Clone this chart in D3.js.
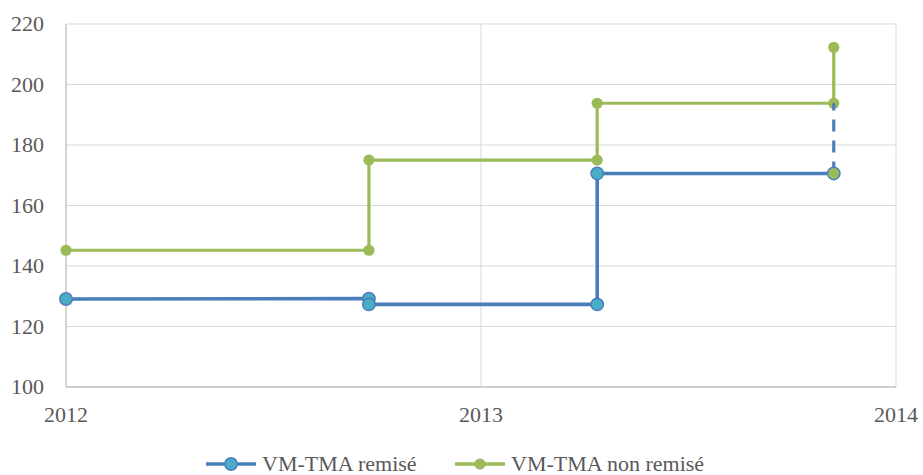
<!DOCTYPE html>
<html>
<head>
<meta charset="utf-8">
<script src="https://cdn.jsdelivr.net/npm/d3@7"></script>
</head>
<body style="margin:0">
<div id="chart"></div>
<script>
var width = 923, height = 475;

// data (x in decimal years)
var yearTicks = [2012, 2013, 2014];
var valueTicks = [100, 120, 140, 160, 180, 200, 220];
var remiseX = [2012, 2012.73, 2012.73, 2013.28, 2013.28, 2013.85];
var remiseY = [129.1, 129.2, 127.3, 127.3, 170.6, 170.6];
var nonRemiseX = [2012, 2012.73, 2012.73, 2013.28, 2013.28, 2013.85, 2013.85];
var nonRemiseY = [145.2, 145.2, 175.0, 175.0, 193.8, 193.8, 212.3];
var dashX = [2013.85, 2013.85];
var dashY = [170.6, 193.8];
var seriesNames = ["VM-TMA remisé", "VM-TMA non remisé"];

var blueLine = "#4a7ebb", blueFill = "#4bacc6", green = "#9bbb59";
var fontName = '"Liberation Serif"';

var x = d3.scaleLinear().domain([2012, 2014]).range([66, 896]);
var y = d3.scaleLinear().domain([100, 220]).range([387, 24]);

var svg = d3.select("#chart").append("svg")
    .attr("width", width).attr("height", height)
    .style("display", "block");

// gridlines
svg.append("g")
    .selectAll("line")
    .data(valueTicks.slice(1))
    .join("line")
      .attr("x1", x(2012)).attr("x2", x(2014))
      .attr("y1", d => y(d)).attr("y2", d => y(d))
      .attr("stroke", "#d9d9d9").attr("stroke-width", 1);
svg.append("g")
    .selectAll("line")
    .data(yearTicks.slice(1))
    .join("line")
      .attr("x1", d => x(d)).attr("x2", d => x(d))
      .attr("y1", y(100)).attr("y2", y(220))
      .attr("stroke", "#d9d9d9").attr("stroke-width", 1);

// axis lines
svg.append("line")
    .attr("x1", x(2012)).attr("x2", x(2012)).attr("y1", y(100)).attr("y2", y(220))
    .attr("stroke", "#bfbfbf").attr("stroke-width", 1.3);
svg.append("line")
    .attr("x1", x(2012)).attr("x2", x(2014)).attr("y1", y(100)).attr("y2", y(100))
    .attr("stroke", "#bfbfbf").attr("stroke-width", 1.3);

// tick labels
svg.append("g").selectAll("text").data(valueTicks).join("text")
    .attr("x", x(2012) - 22).attr("y", d => y(d)).attr("dy", "0.33em")
    .attr("text-anchor", "end").attr("fill", "#595959")
    .style("font-family", fontName).style("font-size", "22px")
    .text(d => d);
svg.append("g").selectAll("text").data(yearTicks).join("text")
    .attr("x", d => x(d)).attr("y", y(100) + 35)
    .attr("text-anchor", "middle").attr("fill", "#595959")
    .style("font-family", fontName).style("font-size", "22px")
    .text(d => d);

var line = d3.line().x(d => x(d[0])).y(d => y(d[1]));
var blue = d3.zip(remiseX, remiseY);
var grn = d3.zip(nonRemiseX, nonRemiseY);

// non remisé
svg.append("path").datum(grn).attr("d", line)
    .attr("fill", "none").attr("stroke", green).attr("stroke-width", 3.2);
svg.append("g").selectAll("circle").data(grn).join("circle")
    .attr("cx", d => x(d[0])).attr("cy", d => y(d[1])).attr("r", 5.6)
    .attr("fill", green);

// remisé
svg.append("path").datum(d3.zip(dashX, dashY)).attr("d", line)
    .attr("fill", "none").attr("stroke", blueLine).attr("stroke-width", 3.2)
    .attr("stroke-dasharray", "12,9");
svg.append("path").datum(blue).attr("d", line)
    .attr("fill", "none").attr("stroke", blueLine).attr("stroke-width", 3.6);
svg.append("g").selectAll("circle").data(blue).join("circle")
    .attr("cx", d => x(d[0])).attr("cy", d => y(d[1])).attr("r", 6.2)
    .attr("fill", blueFill).attr("stroke", blueLine).attr("stroke-width", 1.5);
// green marker sitting on the last blue point
svg.append("circle")
    .attr("cx", x(dashX[0])).attr("cy", y(dashY[0])).attr("r", 5.4)
    .attr("fill", green);

// legend
var legendX = [206, 455];
seriesNames.forEach(function (name, i) {
  var g = svg.append("g").attr("transform", `translate(${legendX[i]},464)`);
  var col = i === 0 ? blueLine : green;
  g.append("line").attr("x1", 0).attr("x2", 50).attr("y1", 0).attr("y2", 0)
    .attr("stroke", col).attr("stroke-width", 3.4);
  g.append("circle").attr("cx", 25).attr("cy", 0).attr("r", i === 0 ? 6.2 : 5.6)
    .attr("fill", i === 0 ? blueFill : green)
    .attr("stroke", i === 0 ? blueLine : "none").attr("stroke-width", 1.5);
  g.append("text").attr("x", 56).attr("y", 0).attr("dy", "0.33em")
    .attr("fill", "#595959")
    .style("font-family", fontName).style("font-size", "22px")
    .text(name);
});
</script>
</body>
</html>
